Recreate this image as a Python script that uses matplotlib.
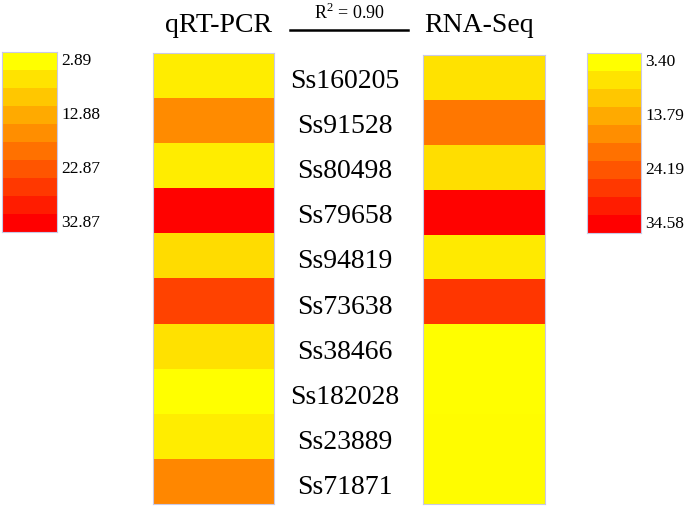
import numpy as np
import matplotlib
matplotlib.use("Agg")
import matplotlib.pyplot as plt

genes = ["Ss160205", "Ss91528", "Ss80498", "Ss79658", "Ss94819",
         "Ss73638", "Ss38466", "Ss182028", "Ss23889", "Ss71871"]
qrt_pcr = [5.0, 16.5, 5.0, 32.5, 7.0, 25.0, 6.5, 3.0, 5.0, 17.0]
rna_seq = [7.0, 20.0, 7.5, 34.2, 6.0, 28.0, 3.6, 3.6, 3.8, 3.8]
qrt_ticks = ["2.89", "12.88", "22.87", "32.87"]
rna_ticks = ["3.40", "13.79", "24.19", "34.58"]
qrt_range = (2.89, 32.87)
rna_range = (3.40, 34.58)
r2_text = "R$^2$ = 0.90"

plt.rcParams['font.family'] = ['Liberation Serif', 'DejaVu Serif']
plt.rcParams['mathtext.fontset'] = 'custom'
plt.rcParams['mathtext.rm'] = 'Liberation Serif'
cmap = plt.get_cmap('autumn_r')
W, H = 685, 507
fig = plt.figure(figsize=(W / 100, H / 100), dpi=100)


def px_axes(x0, y0, x1, y1):
    return fig.add_axes([x0 / W, 1 - y1 / H, (x1 - x0) / W, (y1 - y0) / H])


edge = '#c9c9e6'


def style(ax):
    ax.set_xticks([])
    ax.set_yticks([])
    for s in ax.spines.values():
        s.set_color(edge)
        s.set_linewidth(0.8)


# heatmap columns
for vals, rng, box in [(qrt_pcr, qrt_range, (153, 53, 274, 504)),
                       (rna_seq, rna_range, (423, 55, 545, 504))]:
    ax = px_axes(*box)
    ax.imshow(np.array(vals)[:, None], cmap=cmap, vmin=rng[0], vmax=rng[1],
              aspect='auto', interpolation='nearest')
    style(ax)

# colorbars (10 discrete bands)
for rng, ticks, box, tx in [(qrt_range, qrt_ticks, (2, 52, 57, 232), 61),
                            (rna_range, rna_ticks, (587, 53, 641, 233), 645)]:
    ax = px_axes(*box)
    levels = np.linspace(rng[0], rng[1], 10)
    ax.imshow(levels[:, None], cmap=cmap, vmin=rng[0], vmax=rng[1],
              aspect='auto', interpolation='nearest')
    style(ax)
    y0, y1 = box[1], box[3]
    band = (y1 - y0) / 10
    for i, t in zip([0, 3, 6, 9], ticks):
        fig.text(tx / W, 1 - (y0 + band * (i + 0.5)) / H, t,
                 fontsize=12.5, ha='left', va='center')

# gene labels
top, bot = 53, 504
rowh = (bot - top) / len(genes)
for i, g in enumerate(genes):
    fig.text(345 / W, 1 - (top + rowh * (i + 0.5) + 6) / H, g,
             fontsize=20, ha='center', va='center')

# headers
fig.text(219 / W, 1 - 25 / H, "qRT-PCR", fontsize=20, ha='center', va='center')
fig.text(479 / W, 1 - 25 / H, "RNA-Seq", fontsize=20, ha='center', va='center')
fig.text(349 / W, 1 - 13 / H, r2_text, fontsize=13, ha='center', va='center')
fig.add_artist(plt.Line2D([290 / W, 408 / W], [1 - 30 / H, 1 - 30 / H],
                          color='black', lw=1.8))

fig.savefig("out.png", dpi=100)
